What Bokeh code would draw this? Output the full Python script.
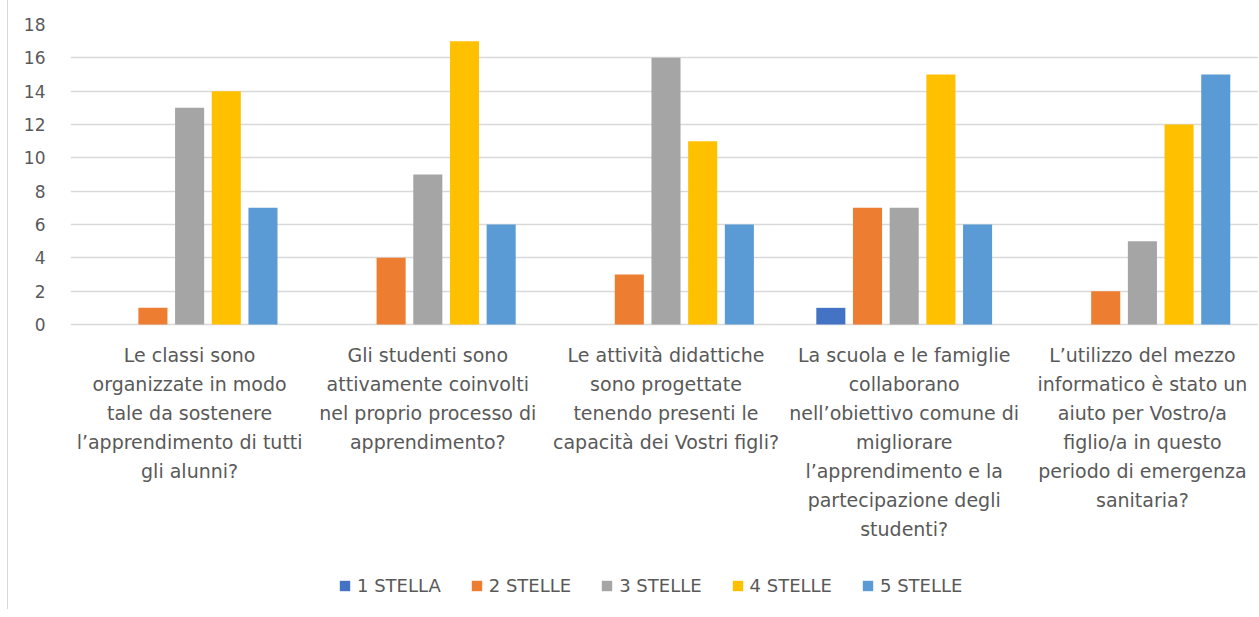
from bokeh.plotting import figure
from bokeh.models import FixedTicker, Legend, LegendItem, ColumnDataSource, Range1d
from bokeh.core.properties import value
from bokeh.embed import file_html
from bokeh.resources import INLINE

categories = [
    "Le classi sono\norganizzate in modo\ntale da sostenere\nl’apprendimento di tutti\ngli alunni?",
    "Gli studenti sono\nattivamente coinvolti\nnel proprio processo di\napprendimento?",
    "Le attività didattiche\nsono progettate\ntenendo presenti le\ncapacità dei Vostri figli?",
    "La scuola e le famiglie\ncollaborano\nnell’obiettivo comune di\nmigliorare\nl’apprendimento e la\npartecipazione degli\nstudenti?",
    "L’utilizzo del mezzo\ninformatico è stato un\naiuto per Vostro/a\nfiglio/a in questo\nperiodo di emergenza\nsanitaria?",
]
series_names = ["1 STELLA", "2 STELLE", "3 STELLE", "4 STELLE", "5 STELLE"]
stella_1 = [0, 0, 0, 1, 0]
stelle_2 = [1, 4, 3, 7, 2]
stelle_3 = [13, 9, 16, 7, 5]
stelle_4 = [14, 17, 11, 15, 12]
stelle_5 = [7, 6, 6, 6, 15]
y_ticks = [0, 2, 4, 6, 8, 10, 12, 14, 16, 18]

series_values = [stella_1, stelle_2, stelle_3, stelle_4, stelle_5]
colors = ["#4472C4", "#ED7D31", "#A5A5A5", "#FFC000", "#5B9BD5"]

FONT = "DejaVu Sans"
TXT = "#595959"

W, H = 1258, 609
TOP, LEFT = 24, 70
PLOT_PX = 300  # pixel height of the 0..18 value band
ymax = y_ticks[-1]
frame_h = H - TOP
ymin = ymax - frame_h * ymax / PLOT_PX

# the chart's plot area runs slightly past the right edge of the window
x_end = len(categories) * (W - LEFT) / (W - LEFT + 3)

p = figure(width=W, height=H, output_backend="svg", toolbar_location=None,
           x_range=Range1d(0, x_end), y_range=Range1d(ymin, ymax),
           min_border_left=LEFT, min_border_right=0, min_border_top=TOP,
           min_border_bottom=0)
p.outline_line_color = None
p.background_fill_color = "white"
p.border_fill_color = None
p.styles = {"background": "linear-gradient(to right, white 7px, #D9D9D9 7px, "
                          "#D9D9D9 8px, white 8px)"}

centers = [i + 0.5 for i in range(len(categories))]
step = 0.154
bw = 0.122
items = []
for k, (name, vals, col) in enumerate(zip(series_names, series_values, colors)):
    xs = [c + (k - 2) * step for c in centers]
    src = ColumnDataSource(dict(x=xs, top=vals))
    r = p.vbar(x="x", top="top", bottom=0, width=bw, source=src,
               fill_color=col, line_color=None)
    items.append(LegendItem(label=name, renderers=[r]))

# category labels under the value band
p.text(x=centers, y=[0] * len(centers), text=categories, y_offset=19,
       text_align="center", text_baseline="top",
       text_font=value(FONT), text_font_size="19px", text_color=TXT,
       text_line_height=1.32)

# axes
p.xaxis.visible = False
p.yaxis.ticker = FixedTicker(ticks=y_ticks)
p.yaxis.major_tick_line_color = None
p.yaxis.minor_tick_line_color = None
p.yaxis.axis_line_color = None
p.yaxis.major_label_text_font = FONT
p.yaxis.major_label_text_font_size = "17px"
p.yaxis.major_label_text_color = TXT
p.yaxis.major_label_standoff = 19

p.xgrid.grid_line_color = None
p.ygrid.ticker = FixedTicker(ticks=y_ticks)
p.ygrid.grid_line_color = "#D9D9D9"
p.ygrid.grid_line_width = 1.3

legend = Legend(items=items, orientation="horizontal", location=(268, 13),
                label_text_font=FONT, label_text_font_size="18px",
                label_text_color=TXT, glyph_width=13, glyph_height=13,
                spacing=29, label_standoff=6, border_line_color=None,
                background_fill_alpha=0, margin=0, padding=5)
p.add_layout(legend, "center")

open("out.html", "w").write(file_html(p, INLINE))
